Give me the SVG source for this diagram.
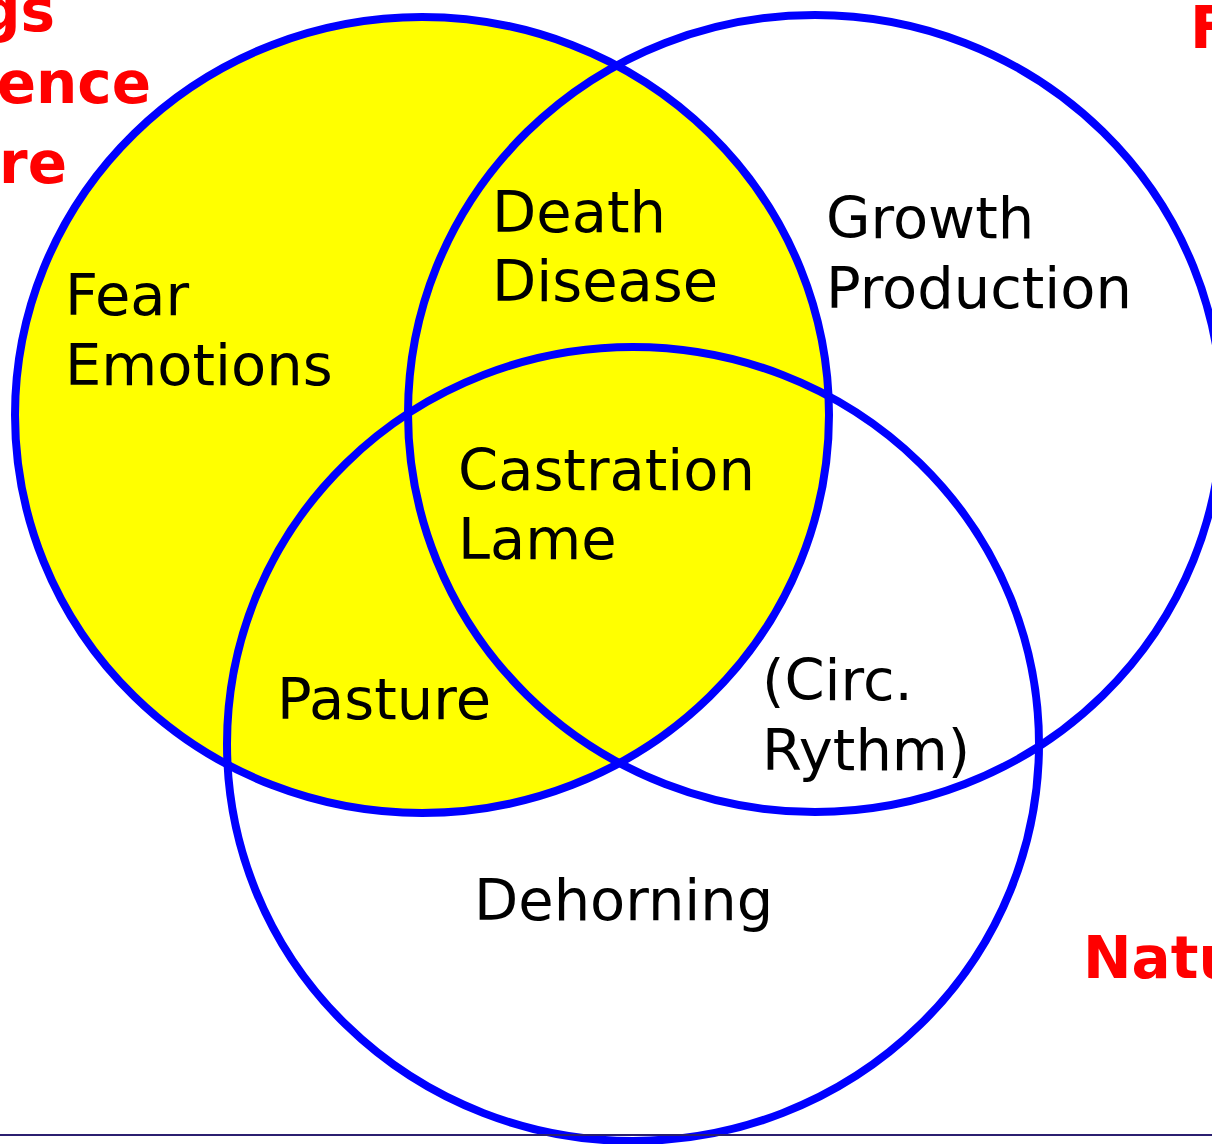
<svg xmlns="http://www.w3.org/2000/svg" width="1212" height="1144" viewBox="0 0 1212 1144">
<style>
.ring{fill:none;stroke:#0000ff;stroke-width:8}
.lbl{font-family:"DejaVu Sans",Verdana,sans-serif;font-size:57.5px;fill:#000}
.red{font-family:"DejaVu Sans",Verdana,sans-serif;font-weight:bold;font-size:58px;fill:#ff0000}
</style>
<rect width="1212" height="1144" fill="#fff"/>
<g id="red-labels">
<text class="red" x="55" y="31" text-anchor="end">gs</text>
<text class="red" x="151" y="103" text-anchor="end">ence</text>
<text class="red" x="67" y="183" text-anchor="end">re</text>
<text class="red" x="1190" y="48" font-size="62">F</text>
<text class="red" x="1083" y="978" font-size="62">Natu</text>
</g>
<g id="circle-left">
<ellipse cx="422" cy="415" rx="407" ry="398" fill="#ffff00"/>
</g>
<g id="circle-right">
<ellipse class="ring" cx="815" cy="413.5" rx="407" ry="398.5"/>
</g>
<g id="circle-bottom">
<ellipse class="ring" cx="633" cy="744" rx="406" ry="397"/>
</g>
<g id="circle-left-outline">
<ellipse class="ring" cx="422" cy="415" rx="407" ry="398"/>
</g>
<g id="labels">
<text class="lbl" x="65" y="315">Fear</text>
<text class="lbl" x="65" y="385">Emotions</text>
<text class="lbl" x="492" y="232">Death</text>
<text class="lbl" x="492" y="301">Disease</text>
<text class="lbl" x="826" y="238">Growth</text>
<text class="lbl" x="826" y="308">Production</text>
<text class="lbl" x="458" y="490">Castration</text>
<text class="lbl" x="458" y="559">Lame</text>
<text class="lbl" x="277" y="719">Pasture</text>
<text class="lbl" x="762" y="700">(Circ.</text>
<text class="lbl" x="762" y="770">Rythm)</text>
<text class="lbl" x="474" y="920">Dehorning</text>
</g>
<g id="connectors">
<line x1="0" y1="1135" x2="1212" y2="1135" stroke="#2b1f70" stroke-width="2"/>
</g>
</svg>
